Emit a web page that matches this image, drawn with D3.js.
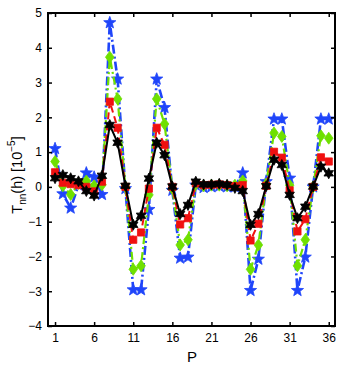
<!DOCTYPE html>
<html>
<head>
<meta charset="utf-8">
<script src="https://cdn.jsdelivr.net/npm/d3@7"></script>
<style>
body { margin: 0; background: #fff; }
text { font-family: "Liberation Sans", Arial, sans-serif; }
</style>
</head>
<body>
<svg id="chart"></svg>
<script>
var width = 345;
var height = 370;

// P positions
var pos = d3.range(1, 37);
var xTicks = [1, 6, 11, 16, 21, 26, 31, 36];
var yTicks = [-4, -3, -2, -1, 0, 1, 2, 3, 4, 5];

// series values (units of 1e-5)
var blueVals = [1.10, -0.20, -0.61, 0.05, 0.40, 0.28, -0.22, 4.72, 3.10, -0.05,
    -2.96, -2.96, -0.65, 3.10, 2.28, -0.10, -2.05, -2.02, 0.05, -0.02,
    0.00, 0.02, 0.00, 0.00, 0.40, -2.98, -2.08, 0.15, 1.95, 1.95,
    0.25, -2.98, -2.02, 0.00, 1.95, 1.95];
var greenVals = [0.73, 0.03, -0.22, 0.10, 0.17, 0.03, 0.06, 3.73, 2.53, 0.00,
    -2.37, -2.27, -0.23, 2.53, 1.81, -0.05, -1.67, -1.52, 0.08, 0.03,
    0.05, 0.05, 0.03, 0.05, 0.17, -2.37, -1.67, 0.08, 1.55, 1.45,
    0.05, -2.27, -1.52, 0.00, 1.47, 1.40];
var redVals = [0.42, 0.12, 0.08, 0.05, 0.00, -0.13, 0.15, 2.45, 1.70, 0.00,
    -1.52, -1.31, -0.05, 1.70, 1.21, 0.00, -1.08, -0.90, 0.10, 0.05,
    0.06, 0.07, 0.05, 0.02, 0.05, -1.54, -1.06, 0.03, 1.01, 0.84,
    -0.10, -1.28, -0.93, 0.00, 0.85, 0.73];
var blackVals = [0.25, 0.34, 0.25, 0.16, -0.12, -0.25, 0.32, 1.78, 1.27, 0.03,
    -1.09, -0.83, 0.24, 1.27, 0.91, 0.01, -0.78, -0.52, 0.15, 0.07,
    0.07, 0.09, 0.06, -0.03, -0.12, -1.09, -0.78, 0.02, 0.78, 0.63,
    -0.23, -0.90, -0.57, 0.01, 0.58, 0.39];

var plotL = 48, plotR = 335, plotT = 13, plotB = 326;

var svg = d3.select('#chart')
    .attr('width', width)
    .attr('height', height);

var x = d3.scaleLinear().domain([0.1, 36.8]).range([plotL, plotR]);
var y = d3.scaleLinear().domain([-4, 5]).range([plotB, plotT]);

// star with n points, outer radius r
function starPath(n, r, inner) {
    var pts = [];
    for (var i = 0; i < 2 * n; i++) {
        var a = -Math.PI / 2 + i * Math.PI / n;
        var rr = i % 2 == 0 ? r : r * inner;
        pts.push([rr * Math.cos(a), rr * Math.sin(a)]);
    }
    return 'M' + pts.map(function(p){ return p[0].toFixed(2) + ',' + p[1].toFixed(2); }).join('L') + 'Z';
}

var series = [
    {vals: blueVals, color: '#1f45fa', width: 2.6, dash: '9,3,2,3', marker: starPath(5, 6.4, 0.42)},
    {vals: greenVals, color: '#6fe000', width: 2.2, dash: '8,3,2,3', marker: 'M0,-6L4.3,0L0,6L-4.3,0Z'},
    {vals: redVals, color: '#f01010', width: 2.0, dash: '7,4', marker: 'M-3.6,-3.6H3.6V3.6H-3.6Z'},
    {vals: blackVals, color: '#000000', width: 2.0, dash: null, marker: starPath(6, 5.5, 0.55)}
];

var line = d3.line()
    .x(function(d, i){ return x(pos[i]); })
    .y(function(d){ return y(d); });

series.forEach(function(s){
    var g = svg.append('g');
    g.append('path')
        .attr('d', line(s.vals))
        .style('fill', 'none')
        .style('stroke', s.color)
        .style('stroke-width', s.width)
        .style('stroke-dasharray', s.dash);
    g.selectAll('.m')
        .data(s.vals)
        .enter()
        .append('path')
        .attr('d', s.marker)
        .attr('transform', function(d, i){ return 'translate(' + x(pos[i]) + ',' + y(d) + ')'; })
        .style('fill', s.color)
        .style('stroke', s.color)
        .style('stroke-width', 0.8);
});

// axes box with inward ticks
var fmt = function(d){ return d < 0 ? '\u2212' + Math.abs(d) : d; };

svg.append('g')
    .attr('transform', 'translate(0,' + plotB + ')')
    .call(d3.axisBottom(x).tickValues(xTicks).tickSize(-4).tickPadding(7))
    .call(function(g){ g.selectAll('text').style('font-size', '12px'); });
svg.append('g')
    .attr('transform', 'translate(0,' + plotT + ')')
    .call(d3.axisTop(x).tickValues(xTicks).tickSize(-4).tickFormat(''));
svg.append('g')
    .attr('transform', 'translate(' + plotL + ',0)')
    .call(d3.axisLeft(y).tickValues(yTicks).tickSize(-4).tickPadding(6).tickFormat(fmt))
    .call(function(g){ g.selectAll('text').style('font-size', '12px'); });
svg.append('g')
    .attr('transform', 'translate(' + plotR + ',0)')
    .call(d3.axisRight(y).tickValues(yTicks).tickSize(-4).tickFormat(''));

svg.selectAll('.domain').remove();
svg.selectAll('.tick line').style('stroke', '#000').style('stroke-width', 1.5);
svg.selectAll('.tick text').style('fill', '#000');

svg.append('rect')
    .attr('x', plotL).attr('y', plotT)
    .attr('width', plotR - plotL).attr('height', plotB - plotT)
    .style('fill', 'none')
    .style('stroke', '#000')
    .style('stroke-width', 2);

// labels
svg.append('text')
    .attr('x', x(18.5)).attr('y', 362)
    .attr('text-anchor', 'middle')
    .style('font-size', '15px')
    .text('P');

var yl = svg.append('text')
    .attr('transform', 'translate(22,175) rotate(-90)')
    .attr('text-anchor', 'middle')
    .style('font-size', '14.5px');
yl.append('tspan').text('T');
yl.append('tspan').attr('dy', 3.5).style('font-size', '10px').text('nn');
yl.append('tspan').attr('dy', -3.5).text('(h) [10');
yl.append('tspan').attr('dy', -7).style('font-size', '10px').text('\u22125');
yl.append('tspan').attr('dy', 7).text(']');
</script>
</body>
</html>
